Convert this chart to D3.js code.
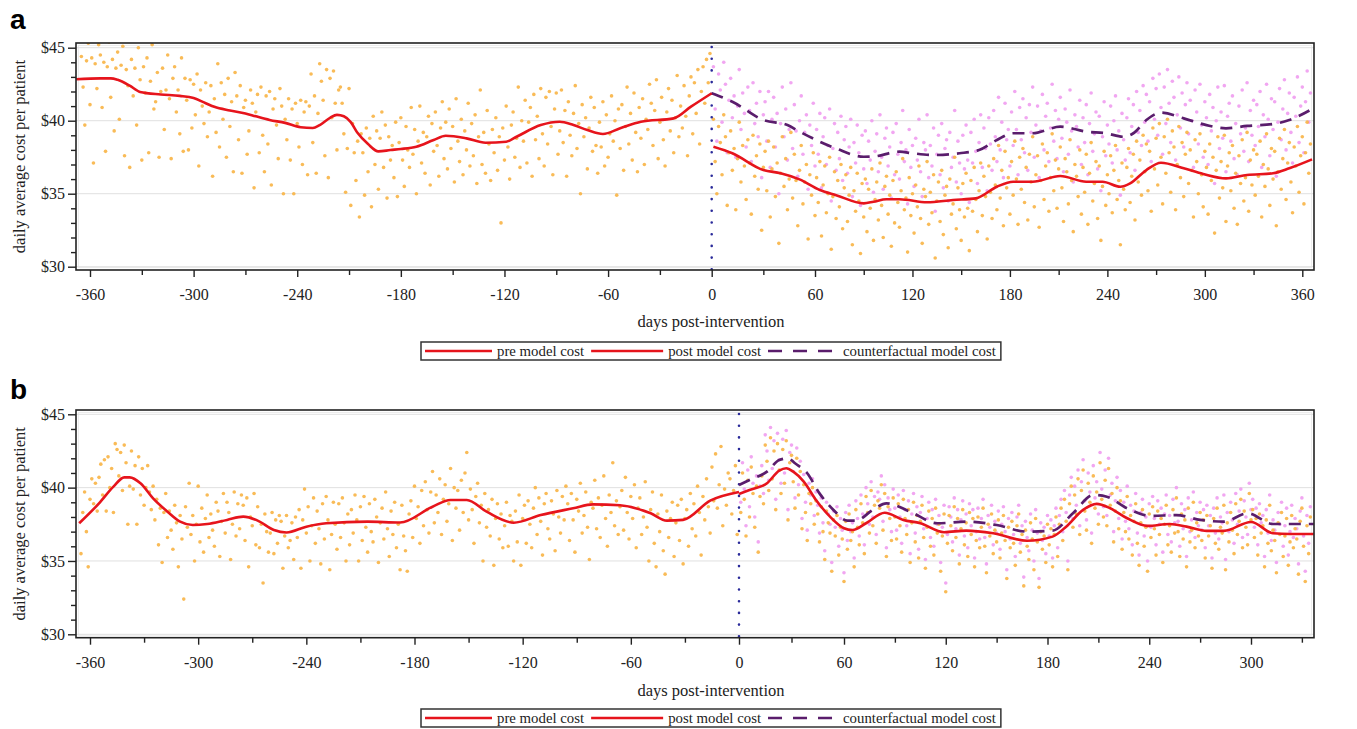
<!DOCTYPE html>
<html>
<head>
<meta charset="utf-8">
<script src="https://cdn.jsdelivr.net/npm/d3@7"></script>
<style>
body { margin: 0; background: #fff; }
svg text { font-family: "Liberation Serif", "Times New Roman", serif; fill: #222; }
.panel-label { font-family: "Liberation Sans", Arial, sans-serif; font-weight: bold; fill: #000; }
</style>
</head>
<body>
<svg id="chart" width="1357" height="729"></svg>
<script>
// ---- tick values / labels ----
const xMajorA = [-360, -300, -240, -180, -120, -60, 0, 60, 120, 180, 240, 300, 360]
const xMinorA = [-330, -270, -210, -150, -90, -30, 30, 90, 150, 210, 270, 330]
const xMajorB = [-360, -300, -240, -180, -120, -60, 0, 60, 120, 180, 240, 300]
const xMinorB = [-330, -270, -210, -150, -90, -30, 30, 90, 150, 210, 270, 330]
const yMajor = [30, 35, 40, 45]
const yMinor = [31, 32, 33, 34, 36, 37, 38, 39, 41, 42, 43, 44]
const legendLabels = ['pre model cost', 'post model cost', 'counterfactual model cost']

// ---- panel a: daily observed cost, pre period (days -365..-1) ----
const preObsA = [
  44.4, 42.3, 39.7, 44.1, 45.3, 41.1, 44.3, 37.1, 43.9, 42.2, 45.2, 44.5, 40.9, 44.0, 37.9, 43.7, 45.4, 41.6, 44.2, 39.3, 43.6, 44.7, 40.1, 43.8, 45.1, 37.6, 43.5, 42.4, 36.8, 44.2,
  41.7, 43.6, 39.7, 45.0, 42.8, 37.3, 43.7, 41.9, 44.3, 37.8, 42.7, 45.2, 40.8, 41.3, 43.3, 37.5, 42.0, 43.6, 39.4, 42.1, 44.5, 41.5, 37.4, 42.9, 43.7, 40.6, 42.1, 39.1, 44.3, 37.9,
  42.9, 41.4, 38.0, 42.8, 39.5, 42.5, 40.4, 43.2, 36.9, 42.1, 41.0, 39.8, 42.6, 38.9, 40.6, 42.4, 36.2, 41.5, 39.2, 43.9, 38.2, 42.6, 40.1, 41.8, 37.5, 42.9, 39.6, 41.3, 36.5, 43.3,
  41.7, 38.7, 42.4, 36.4, 40.9, 41.4, 37.7, 39.3, 42.1, 41.2, 35.4, 40.6, 41.8, 37.8, 42.3, 39.0, 36.5, 41.7, 38.4, 42.0, 35.6, 40.8, 41.5, 39.7, 37.4, 42.2, 41.0, 35.0, 40.1, 38.7,
  41.5, 37.3, 40.8, 35.0, 41.2, 39.8, 38.2, 41.4, 37.0, 40.6, 41.3, 36.3, 41.0, 43.2, 38.5, 41.7, 36.4, 40.5, 43.9, 42.7, 41.4, 37.6, 43.5, 36.1, 42.9, 40.2, 43.4, 41.2, 38.0, 42.1,
  42.3, 41.2, 39.1, 35.1, 38.1, 42.2, 34.2, 39.8, 37.8, 35.9, 38.6, 33.4, 39.1, 37.8, 34.9, 39.5, 36.5, 38.8, 34.1, 40.3, 37.0, 39.3, 35.3, 38.8, 40.6, 36.8, 39.7, 34.7, 38.9, 37.3,
  38.3, 36.1, 39.9, 34.8, 38.5, 40.2, 37.3, 35.5, 39.6, 38.0, 36.8, 40.9, 37.7, 39.4, 35.0, 38.6, 41.0, 37.1, 39.2, 36.4, 38.9, 40.3, 35.6, 39.8, 37.9, 40.6, 38.3, 36.2, 39.5, 41.3,
  37.4, 39.9, 36.7, 40.8, 38.1, 39.6, 35.8, 41.5, 38.6, 37.2, 40.1, 36.3, 39.3, 38.0, 41.2, 36.9, 39.8, 37.6, 40.4, 35.7, 38.9, 42.1, 37.0, 39.2, 36.4, 40.7, 38.4, 35.9, 39.4, 37.8,
  40.2, 36.6, 38.9, 33.0, 39.5, 37.3, 41.0, 38.2, 36.0, 39.7, 40.6, 37.5, 38.8, 42.3, 36.8, 40.0, 38.6, 41.4, 37.1, 39.9, 40.9, 36.2, 41.8, 38.7, 40.3, 37.4, 42.2, 39.1, 36.9, 41.6,
  38.4, 42.0, 39.6, 36.3, 40.8, 41.9, 37.7, 39.3, 42.1, 38.5, 40.7, 36.2, 41.3, 39.0, 37.6, 40.5, 42.4, 38.1, 39.8, 35.0, 41.1, 38.9, 40.2, 36.7, 39.5, 41.6, 37.9, 40.9, 38.3, 36.4,
  39.9, 38.2, 41.3, 36.9, 40.4, 37.5, 39.1, 41.7, 38.6, 40.0, 34.9, 40.8, 38.1, 41.1, 36.6, 39.6, 42.3, 38.4, 40.5, 37.3, 41.9, 39.2, 36.5, 40.9, 38.8, 41.5, 37.0, 40.1, 39.4, 42.5,
  41.2, 38.3, 40.7, 42.8, 37.4, 39.9, 41.6, 38.7, 36.9, 40.6, 42.2, 39.3, 41.4, 37.8, 40.2, 43.1, 38.9, 41.0, 39.5, 42.4, 40.3, 37.6, 41.7, 43.0, 39.1, 42.6, 40.5, 43.5, 38.4, 42.0,
  43.7, 41.2, 44.2, 42.6, 44.6
]

// ---- panel a: observed cost, post period (days 1..365) ----
const postObsA = [
  40.1, 37.2, 35.0, 39.6, 38.5, 36.3, 40.4, 38.9, 34.2, 37.8, 39.3, 36.6, 38.1, 33.9, 37.4, 39.9, 35.8, 38.3, 36.9, 34.6, 38.7, 37.1, 33.6, 39.0, 36.2, 37.6, 35.3, 38.4, 32.5, 36.8,
  37.9, 35.2, 38.6, 33.4, 36.7, 38.2, 34.8, 37.1, 31.6, 36.4, 38.9, 35.5, 37.4, 33.9, 36.0, 39.2, 34.7, 37.7, 35.9, 32.8, 36.6, 38.3, 34.3, 35.8, 37.0, 31.9, 36.3, 34.9, 37.8, 33.5,
  36.1, 34.4, 37.2, 32.1, 35.6, 36.9, 33.7, 35.0, 37.5, 31.2, 34.8, 36.5, 33.3, 35.9, 34.1, 37.0, 32.6, 35.4, 36.3, 33.1, 34.9, 36.8, 31.5, 35.2, 33.8, 36.4, 34.5, 30.9, 35.7, 33.4,
  36.0, 32.4, 35.3, 34.0, 36.7, 31.8, 34.6, 35.8, 33.2, 37.1, 34.2, 32.0, 35.5, 36.2, 33.6, 34.9, 31.4, 35.9, 33.0, 36.5, 34.4, 32.7, 35.2, 37.4, 33.9, 34.7, 31.0, 36.1, 33.5, 35.0,
  32.3, 35.6, 34.1, 36.9, 33.3, 31.6, 35.3, 34.8, 37.2, 32.9, 35.1, 33.7, 36.3, 30.6, 34.5, 35.8, 33.1, 36.6, 32.2, 34.9, 35.5, 31.3, 36.0, 33.6, 34.3, 37.5, 32.6, 35.4, 33.9, 31.8,
  35.7, 33.4, 36.4, 34.0, 31.1, 35.9, 33.8, 36.8, 34.6, 32.4, 35.2, 37.1, 33.5, 36.2, 34.8, 31.9, 36.9, 35.1, 33.3, 37.4, 35.6, 33.9, 38.3, 34.7, 36.6, 32.8, 37.9, 35.4, 36.1, 33.6,
  37.2, 34.9, 38.6, 36.0, 32.9, 37.5, 35.3, 38.1, 34.4, 36.8, 33.2, 37.7, 35.8, 38.9, 34.1, 36.3, 37.6, 32.7, 35.9, 38.4, 34.6, 36.9, 37.8, 33.8, 36.1, 39.1, 35.2, 37.3, 34.0, 36.7,
  38.2, 35.4, 33.1, 37.4, 36.5, 34.3, 38.7, 35.9, 32.4, 37.0, 36.2, 34.8, 38.0, 33.6, 36.8, 35.1, 37.7, 32.9, 36.4, 38.5, 34.5, 35.7, 37.2, 33.3, 36.9, 31.8, 35.5, 37.9, 34.2, 36.3,
  35.0, 37.6, 33.7, 36.6, 38.3, 34.6, 35.9, 31.5, 37.1, 35.3, 33.9, 36.8, 38.1, 34.4, 36.2, 37.7, 33.2, 38.6, 35.8, 37.3, 34.9, 39.0, 36.5, 38.4, 35.2, 37.9, 33.8, 39.5, 36.7, 38.8,
  35.6, 39.8, 37.5, 34.3, 38.9, 36.4, 40.1, 37.8, 35.1, 39.3, 38.2, 33.9, 37.0, 39.6, 36.1, 38.5, 34.8, 37.7, 39.2, 35.7, 38.0, 36.6, 33.4, 38.7, 37.2, 35.0, 39.1, 36.3, 34.1, 37.9,
  36.8, 33.6, 38.4, 35.9, 37.5, 32.3, 36.6, 38.9, 34.7, 37.2, 35.4, 39.0, 33.1, 36.9, 37.8, 35.2, 38.3, 34.0, 36.4, 32.9, 37.6, 35.7, 38.7, 34.5, 36.1, 39.2, 33.8, 37.3, 35.6, 38.0,
  34.9, 37.7, 36.2, 38.6, 33.4, 37.0, 35.5, 39.1, 36.7, 34.2, 38.1, 36.0, 37.9, 32.8, 36.5, 38.8, 35.3, 37.4, 39.4, 34.6, 37.1, 38.5, 35.8, 33.7, 38.2, 36.9, 39.6, 35.1, 37.6, 38.9,
  34.3, 37.8, 39.9, 36.4, 38.4
]

// ---- panel a: counterfactual cost, post period (days 1..365) ----
const cfObsA = [
  43.7, 40.8, 38.6, 43.2, 42.1, 39.9, 44.0, 42.5, 37.8, 41.4, 42.9, 40.2, 41.7, 37.5, 41.0, 43.5, 39.4, 41.9, 40.5, 38.2, 42.3, 40.7, 37.2, 42.6, 39.8, 41.2, 38.9, 42.0, 36.1, 40.4,
  41.3, 38.6, 42.0, 36.8, 40.1, 41.6, 38.2, 40.5, 35.0, 39.8, 42.3, 38.9, 40.8, 37.3, 39.4, 42.6, 38.1, 41.1, 39.3, 36.2, 40.0, 41.7, 37.7, 39.2, 40.4, 35.3, 39.7, 38.3, 41.2, 36.9,
  39.4, 37.7, 40.5, 35.4, 38.9, 40.2, 37.0, 38.3, 40.8, 34.5, 38.1, 39.8, 36.6, 39.2, 37.4, 40.3, 35.9, 38.7, 39.6, 36.4, 38.2, 40.1, 34.8, 38.5, 37.1, 39.7, 37.8, 34.2, 39.0, 36.7,
  39.3, 35.7, 38.6, 37.3, 40.0, 35.1, 37.9, 39.1, 36.5, 40.4, 37.5, 35.3, 38.8, 39.5, 36.9, 38.2, 34.7, 39.2, 36.3, 39.8, 37.7, 36.0, 38.5, 40.7, 37.2, 38.0, 34.3, 39.4, 36.8, 38.3,
  35.5, 38.8, 37.3, 40.1, 36.5, 34.8, 38.5, 38.0, 40.4, 36.1, 38.3, 36.9, 39.5, 33.8, 37.7, 39.0, 36.3, 39.8, 35.4, 38.1, 38.7, 34.5, 39.2, 36.8, 37.5, 40.7, 35.8, 38.6, 37.1, 35.0,
  39.0, 36.7, 39.7, 37.3, 34.4, 39.2, 37.1, 40.1, 37.9, 35.7, 38.5, 40.4, 36.8, 39.5, 38.1, 35.2, 40.2, 38.4, 36.6, 40.7, 38.9, 37.2, 41.6, 38.0, 39.9, 36.1, 41.2, 38.7, 39.4, 36.9,
  40.6, 38.3, 42.0, 39.4, 36.3, 40.9, 38.7, 41.5, 37.8, 40.2, 36.6, 41.1, 39.2, 42.3, 37.5, 39.7, 41.0, 36.1, 39.3, 41.8, 38.0, 40.3, 41.2, 37.2, 39.5, 42.5, 38.6, 40.7, 37.4, 40.1,
  41.6, 38.8, 36.5, 40.8, 39.9, 37.7, 42.1, 39.3, 35.8, 40.4, 39.6, 38.2, 41.4, 37.0, 40.2, 38.5, 41.1, 36.3, 39.8, 41.9, 37.9, 39.1, 40.6, 36.7, 40.3, 35.2, 38.9, 41.3, 37.6, 39.7,
  38.4, 41.0, 37.1, 40.0, 41.7, 38.0, 39.3, 34.9, 40.5, 38.7, 37.3, 40.2, 41.5, 37.8, 39.6, 41.1, 36.6, 42.0, 39.2, 40.7, 38.3, 42.4, 39.9, 41.8, 38.6, 41.3, 37.2, 42.9, 40.1, 42.2,
  39.0, 43.2, 40.9, 37.7, 42.3, 39.8, 43.5, 41.2, 38.5, 42.7, 41.6, 37.3, 40.4, 43.0, 39.5, 41.9, 38.2, 41.1, 42.6, 39.1, 41.4, 40.0, 36.8, 42.1, 40.6, 38.4, 42.5, 39.7, 37.5, 41.3,
  40.2, 37.0, 41.8, 39.3, 40.9, 35.7, 40.0, 42.3, 38.1, 40.6, 38.8, 42.4, 36.5, 40.3, 41.2, 38.6, 41.7, 37.4, 39.8, 36.3, 41.0, 39.1, 42.1, 37.9, 39.5, 42.6, 37.2, 40.7, 39.0, 41.4,
  38.3, 41.1, 39.6, 42.0, 36.8, 40.4, 38.9, 42.5, 40.1, 37.6, 41.5, 39.4, 41.3, 36.2, 39.9, 42.2, 38.7, 40.8, 42.8, 38.0, 40.5, 41.9, 39.2, 37.1, 41.6, 40.3, 43.0, 38.5, 41.0, 42.3,
  37.8, 41.3, 43.4, 39.9, 41.9
]

// ---- panel b: observed cost, pre period (days -365..-1) ----
const preObsB = [
  35.5, 38.3, 39.7, 37.0, 34.6, 39.2, 40.6, 38.9, 40.3, 38.4, 40.7, 41.6, 39.5, 41.9, 38.4, 42.1, 40.0, 41.3, 38.3, 43.0, 42.6, 40.8, 42.4, 39.8, 42.9, 41.7, 37.5, 40.1, 42.5, 39.9,
  41.5, 37.5, 42.1, 39.5, 41.3, 38.8, 40.0, 41.5, 39.7, 38.5, 40.1, 37.8, 39.2, 36.1, 38.6, 34.9, 38.3, 39.6, 36.6, 38.4, 37.1, 35.8, 38.8, 37.6, 34.6, 38.1, 36.5, 32.4, 38.7, 37.3,
  40.3, 36.8, 38.1, 35.0, 37.5, 40.1, 36.3, 38.6, 35.6, 37.9, 39.5, 36.6, 38.2, 37.1, 36.0, 39.0, 38.4, 35.3, 37.7, 39.6, 36.9, 39.0, 38.3, 35.1, 37.5, 39.7, 36.7, 38.9, 37.2, 39.5,
  38.8, 36.4, 39.3, 34.6, 38.0, 37.4, 39.6, 36.1, 38.7, 35.9, 37.5, 33.5, 38.2, 37.0, 35.6, 36.9, 38.3, 35.5, 37.8, 36.2, 38.1, 37.7, 34.5, 36.7, 38.1, 35.9, 36.4, 37.6, 35.1, 38.0,
  36.6, 38.5, 34.5, 37.8, 39.9, 36.9, 38.7, 35.0, 37.4, 39.3, 36.2, 38.4, 37.2, 34.8, 38.9, 36.5, 39.4, 37.8, 34.4, 36.8, 39.0, 37.5, 35.8, 38.9, 36.6, 39.3, 37.6, 35.0, 38.2, 36.1,
  38.5, 36.9, 39.5, 37.8, 35.0, 38.7, 36.4, 39.4, 37.3, 35.6, 38.9, 37.0, 36.3, 39.2, 38.0, 34.9, 37.6, 38.6, 36.5, 39.7, 37.2, 35.3, 38.4, 36.8, 39.0, 35.9, 37.5, 34.4, 38.8, 36.7,
  35.7, 34.3, 38.2, 39.1, 36.6, 40.1, 37.9, 38.7, 36.2, 39.8, 37.4, 40.4, 38.5, 36.9, 39.7, 41.1, 37.6, 39.5, 38.3, 40.6, 36.8, 39.2, 40.2, 37.7, 38.9, 41.3, 36.4, 40.0, 38.6, 39.8,
  37.1, 40.5, 38.3, 41.0, 42.4, 37.8, 39.9, 38.5, 36.2, 39.4, 40.3, 37.6, 38.8, 35.0, 39.6, 37.3, 38.5, 36.7, 39.2, 34.7, 37.9, 38.9, 36.5, 38.2, 35.9, 37.4, 39.0, 36.0, 38.1, 37.7,
  35.0, 38.4, 36.3, 39.5, 34.7, 37.9, 38.8, 36.2, 39.1, 37.5, 35.9, 38.6, 40.0, 36.8, 39.3, 37.7, 35.4, 38.9, 39.6, 37.2, 36.5, 39.1, 38.2, 35.7, 39.8, 38.0, 36.9, 39.4, 37.8, 40.1,
  38.9, 36.4, 39.6, 37.8, 35.6, 39.2, 38.4, 40.3, 36.9, 38.1, 39.7, 37.3, 35.1, 39.0, 38.6, 40.5, 37.2, 39.3, 36.6, 38.8, 40.8, 37.9, 36.0, 39.5, 38.3, 41.7, 37.4, 39.1, 36.8, 38.7,
  39.8, 37.1, 40.7, 38.3, 36.5, 39.4, 37.9, 40.2, 35.9, 38.6, 39.3, 36.8, 38.0, 40.4, 37.3, 35.0, 38.5, 39.7, 36.2, 34.6, 38.2, 37.0, 39.5, 35.7, 34.1, 38.4, 36.6, 37.9, 39.0, 35.3,
  37.6, 38.8, 36.4, 39.2, 34.8, 37.9, 38.5, 36.0, 39.6, 37.2, 38.9, 36.7, 40.1, 38.3, 35.4, 39.4, 37.8, 40.6, 38.7, 36.9, 41.4, 39.1, 42.3, 38.6, 40.2, 42.8, 37.4, 39.9, 38.8, 41.0,
  40.6, 38.2, 39.8, 41.5, 36.8
]

// ---- panel b: observed cost, post period (days 1..335) ----
const postObsB = [
  38.3, 41.0, 39.2, 36.7, 40.5, 38.0, 41.4, 39.6, 37.3, 40.1, 35.6, 39.4, 40.8, 38.9, 42.9, 41.8, 39.8, 43.4, 40.6, 42.5, 38.5, 43.0, 41.2, 39.6, 42.6, 40.3, 43.2, 37.8, 41.7, 42.2,
  40.4, 38.6, 42.0, 39.5, 41.1, 37.2, 40.2, 38.3, 36.4, 39.6, 38.9, 40.0, 37.5, 39.1, 38.2, 36.3, 38.7, 37.0, 35.1, 38.4, 37.6, 36.9, 34.3, 37.8, 36.7, 38.1, 35.4, 37.3, 36.5, 33.6,
  37.7, 35.8, 38.2, 36.4, 37.0, 34.6, 38.5, 37.3, 36.1, 38.9, 37.6, 35.5, 39.4, 38.3, 36.9, 39.8, 37.4, 38.8, 36.2, 39.1, 38.6, 40.2, 37.1, 39.6, 35.3, 38.7, 37.9, 36.4, 39.3, 38.0,
  36.5, 38.9, 37.4, 35.6, 39.2, 37.9, 36.8, 38.5, 34.9, 37.6, 39.0, 36.3, 38.1, 35.2, 37.7, 38.8, 36.6, 34.5, 37.3, 38.4, 36.0, 37.9, 35.4, 38.6, 36.9, 37.5, 34.3, 36.7, 38.2, 32.9,
  36.2, 38.1, 37.4, 35.7, 38.7, 36.6, 37.9, 34.8, 37.2, 38.5, 36.1, 37.6, 35.3, 38.3, 36.8, 37.9, 34.6, 36.4, 38.0, 35.9, 37.3, 38.6, 36.0, 34.2, 37.5, 36.7, 38.2, 35.5, 37.1, 36.3,
  37.8, 35.2, 36.9, 38.1, 36.4, 33.8, 37.3, 35.9, 37.7, 36.2, 34.7, 37.4, 38.2, 35.6, 36.8, 33.3, 37.1, 36.0, 35.1, 37.6, 36.5, 34.4, 37.9, 36.3, 33.2, 37.0, 35.8, 36.7, 34.9, 37.5,
  36.1, 37.2, 34.6, 36.8, 38.0, 35.3, 37.5, 38.6, 36.4, 39.2, 37.7, 34.4, 38.9, 40.1, 37.3, 39.5, 38.2, 40.6, 36.8, 39.8, 41.2, 38.4, 37.1, 40.3, 39.0, 36.2, 40.8, 38.6, 39.7, 37.5,
  41.7, 39.2, 38.0, 40.5, 37.4, 41.3, 38.8, 39.6, 36.3, 38.4, 40.0, 37.2, 39.1, 35.8, 38.3, 37.0, 39.4, 36.5, 38.1, 35.4, 37.7, 38.9, 36.2, 34.7, 37.6, 38.5, 36.0, 37.3, 34.3, 38.2,
  36.6, 38.7, 37.2, 35.4, 38.4, 36.8, 37.9, 34.9, 37.5, 38.8, 36.1, 37.4, 35.6, 38.5, 36.9, 39.3, 37.0, 35.3, 38.2, 36.5, 37.8, 34.6, 38.6, 36.3, 37.1, 39.0, 35.9, 37.6, 36.7, 38.3,
  36.4, 37.8, 35.2, 38.1, 36.7, 37.4, 34.5, 37.9, 36.2, 38.6, 35.8, 37.3, 36.9, 38.8, 34.4, 37.6, 36.3, 38.3, 37.1, 35.5, 38.9, 36.8, 37.7, 39.2, 35.9, 38.4, 37.3, 36.1, 39.6, 37.8,
  38.5, 36.6, 37.9, 35.4, 38.2, 36.9, 37.4, 34.6, 37.8, 36.2, 38.8, 35.7, 37.1, 36.4, 34.2, 37.6, 36.8, 38.3, 35.3, 36.7, 37.9, 34.7, 36.3, 38.1, 35.9, 37.2, 36.5, 34.1, 37.7, 38.6,
  36.0, 33.6, 37.4, 35.5, 38.0
]

// ---- panel b: counterfactual cost, post period (days 1..335) ----
const cfObsB = [
  39.0, 41.7, 39.9, 37.4, 41.2, 38.7, 42.1, 40.3, 38.0, 40.8, 36.3, 40.1, 41.5, 39.6, 43.6, 42.5, 40.5, 44.1, 41.3, 43.2, 39.2, 43.7, 41.9, 40.3, 43.3, 41.0, 43.9, 38.5, 42.4, 42.9,
  41.1, 39.3, 42.7, 40.2, 41.8, 37.9, 40.9, 39.0, 37.1, 40.3, 39.5, 40.6, 38.1, 39.7, 38.8, 36.9, 39.3, 37.6, 35.7, 39.0, 38.2, 37.5, 34.9, 38.4, 37.3, 38.7, 36.0, 37.9, 37.1, 34.2,
  38.3, 36.4, 38.8, 37.0, 37.6, 35.2, 39.1, 37.9, 36.7, 39.5, 38.2, 36.1, 40.0, 38.9, 37.5, 40.4, 38.0, 39.4, 36.8, 39.7, 39.2, 40.8, 37.7, 40.2, 35.9, 39.3, 38.5, 37.0, 39.9, 38.6,
  37.1, 39.5, 38.0, 36.2, 39.8, 38.5, 37.4, 39.1, 35.5, 38.2, 39.6, 36.9, 38.7, 35.8, 38.3, 39.4, 37.2, 35.1, 37.9, 39.0, 36.6, 38.5, 36.0, 39.2, 37.5, 38.1, 34.9, 37.3, 38.8, 33.5,
  36.8, 38.7, 38.0, 36.3, 39.3, 37.2, 38.5, 35.4, 37.8, 39.1, 36.7, 38.2, 35.9, 38.9, 37.4, 38.5, 35.2, 37.0, 38.6, 36.5, 37.9, 39.2, 36.6, 34.8, 38.1, 37.3, 38.8, 36.1, 37.7, 36.9,
  38.4, 35.8, 37.5, 38.7, 37.0, 34.4, 37.9, 36.5, 38.3, 36.8, 35.3, 38.0, 38.8, 36.2, 37.4, 33.9, 37.7, 36.6, 35.7, 38.2, 37.1, 35.0, 38.5, 36.9, 33.8, 37.6, 36.4, 37.3, 35.5, 38.1,
  36.7, 37.8, 35.2, 37.4, 38.6, 35.9, 38.1, 39.2, 37.0, 39.8, 38.3, 35.0, 39.5, 40.7, 37.9, 40.1, 38.8, 41.2, 37.4, 40.4, 41.9, 39.1, 37.8, 41.0, 39.7, 36.9, 41.5, 39.3, 40.4, 38.2,
  42.4, 39.9, 38.7, 41.2, 38.1, 42.0, 39.5, 40.3, 37.0, 39.1, 40.7, 37.9, 39.8, 36.5, 39.0, 37.7, 40.1, 37.2, 38.8, 36.1, 38.4, 39.6, 36.9, 35.4, 38.3, 39.2, 36.7, 38.0, 35.0, 38.9,
  37.3, 39.4, 37.9, 36.1, 39.1, 37.5, 38.6, 35.6, 38.2, 39.5, 36.8, 38.1, 36.3, 39.2, 37.6, 40.0, 37.7, 36.0, 38.9, 37.2, 38.5, 35.3, 39.3, 37.0, 37.8, 39.7, 36.6, 38.3, 37.4, 39.0,
  37.1, 38.5, 35.9, 38.8, 37.4, 38.1, 35.2, 38.6, 36.9, 39.3, 36.5, 38.0, 37.6, 39.5, 35.1, 38.3, 37.0, 39.0, 37.8, 36.2, 39.6, 37.5, 38.4, 39.9, 36.6, 39.1, 38.0, 36.8, 40.3, 38.5,
  39.2, 37.3, 38.6, 36.1, 38.9, 37.6, 38.1, 35.3, 38.5, 36.9, 39.5, 36.4, 37.8, 37.1, 34.9, 38.3, 37.5, 39.0, 36.0, 37.4, 38.6, 35.4, 37.0, 38.8, 36.6, 37.9, 37.2, 34.8, 38.4, 39.3,
  36.7, 34.3, 38.1, 36.2, 38.7
]

// ---- fitted model curves, [day, $] ----
const preLineA = [[-368, 42.84], [-354, 42.9], [-348, 42.9], [-344, 42.8], [-337, 42.4], [-331, 41.97], [-319, 41.8], [-308, 41.7], [-300, 41.55], [-293, 41.2], [-288, 40.95], [-279, 40.7], [-270, 40.5], [-264, 40.3], [-256, 40.05], [-247, 39.85], [-238, 39.55], [-231, 39.5], [-227, 39.7], [-221, 40.2], [-217, 40.4], [-213, 40.3], [-209, 39.9], [-205, 39.15], [-199, 38.4], [-193, 37.9], [-186, 37.99], [-180, 38.06], [-171, 38.22], [-161, 38.68], [-154, 38.97], [-142, 38.79], [-131, 38.49], [-119, 38.56], [-113, 38.9], [-99, 39.7], [-88, 39.93], [-80, 39.7], [-72, 39.36], [-63, 39.09], [-53, 39.48], [-41, 39.93], [-22, 40.16], [-12, 40.96], [0, 41.88]]
const postLineA = [[1, 38.22], [12, 37.77], [30, 36.62], [40, 36.4], [51, 35.98], [63, 35.25], [73, 34.9], [90, 34.34], [96, 34.45], [104, 34.62], [112, 34.62], [129, 34.41], [145, 34.57], [159, 34.68], [172, 35.48], [182, 35.82], [194, 35.82], [211, 36.21], [227, 35.82], [237, 35.82], [248, 35.48], [254, 35.71], [264, 36.62], [273, 37.12], [287, 36.74], [299, 36.35], [313, 36.05], [326, 36.28], [342, 36.4], [352, 36.74], [366, 37.35]]
const cfLineA = [[0, 41.88], [12, 41.3], [30, 40.05], [44, 39.7], [51, 39.25], [63, 38.56], [73, 38.1], [90, 37.53], [96, 37.55], [112, 37.88], [120, 37.77], [133, 37.65], [149, 37.77], [161, 37.99], [172, 38.68], [182, 39.14], [194, 39.14], [211, 39.59], [227, 39.25], [239, 39.14], [250, 38.9], [256, 39.14], [264, 40.05], [273, 40.55], [287, 40.16], [301, 39.7], [313, 39.48], [326, 39.64], [342, 39.77], [352, 40.05], [366, 40.8]]
const preLineB = [[-366, 37.57], [-355, 38.93], [-347, 40.07], [-341, 40.7], [-338, 40.7], [-332, 40.3], [-325, 39.27], [-317, 38.36], [-310, 37.68], [-303, 37.45], [-295, 37.52], [-284, 37.8], [-275, 38.02], [-267, 37.75], [-258, 37.11], [-251, 36.94], [-240, 37.34], [-229, 37.57], [-206, 37.68], [-188, 37.62], [-170, 38.7], [-160, 39.16], [-151, 39.16], [-140, 38.36], [-125, 37.61], [-110, 38.13], [-92, 38.59], [-81, 38.86], [-66, 38.8], [-49, 38.25], [-40, 37.75], [-31, 37.8], [-16, 39.11], [0, 39.7]]
const postLineB = [[0, 39.57], [6, 39.84], [16, 40.3], [23, 41.16], [27, 41.32], [31, 41.09], [37, 40.41], [44, 39.16], [52, 38.02], [60, 37.23], [65, 37.11], [73, 37.57], [84, 38.29], [95, 37.8], [105, 37.57], [119, 36.96], [132, 37.07], [148, 36.89], [168, 36.38], [183, 36.66], [191, 37.34], [201, 38.48], [209, 38.89], [217, 38.59], [227, 37.91], [239, 37.39], [252, 37.52], [262, 37.34], [274, 37.05], [284, 37.05], [300, 37.66], [313, 36.89], [323, 36.84], [337, 36.84]]
const cfLineB = [[0, 40.18], [6, 40.52], [16, 41.09], [23, 41.88], [28, 42.0], [32, 41.66], [39, 40.98], [46, 39.61], [54, 38.48], [62, 37.75], [67, 37.75], [77, 38.48], [85, 38.93], [99, 38.36], [115, 37.57], [133, 37.68], [150, 37.45], [168, 37.0], [183, 37.07], [195, 38.25], [207, 39.5], [215, 39.38], [227, 38.59], [241, 38.07], [256, 38.13], [270, 37.8], [284, 37.68], [298, 38.25], [313, 37.52], [337, 37.52]]

// ---- styles ----
const ORANGE = '#f8b445'
const PINK = '#ef9cef'
const RED = '#e6141c'
const PURPLE = '#5a1d6c'
const REFBLUE = '#2a2a9a'

const svg = d3.select('#chart')
svg.append('rect').attr('width', 1357).attr('height', 729).attr('fill', '#fff')

const panels = [
  {
    id: 'a', labelY: 29, top: 43, bottom: 270, left: 76, right: 1314, y45: 47.7, y30: 266.7,
    xDomain: [-360, 0, 60, 360], xRange: [90, 711.7, 815, 1302.3],
    majors: xMajorA, minors: xMinorA,
    pre: preObsA, post: postObsA, cf: cfObsA,
    preLine: preLineA, postLine: postLineA, cfLine: cfLineA,
    titleY: 327, legendY: 342
  },
  {
    id: 'b', labelY: 399, top: 410, bottom: 637.7, left: 76, right: 1314, y45: 414.3, y30: 634.3,
    xDomain: [-360, 0, 60, 300], xRange: [90, 739, 844, 1251],
    majors: xMajorB, minors: xMinorB,
    pre: preObsB, post: postObsB, cf: cfObsB,
    preLine: preLineB, postLine: postLineB, cfLine: cfLineB,
    titleY: 696, legendY: 709
  }
]

panels.forEach(drawPanel)

function drawPanel(p) {
    const x = d3.scaleLinear().domain(p.xDomain).range(p.xRange)
    const y = d3.scaleLinear().domain([30, 45]).range([p.y30, p.y45])
    const g = svg.append('g')

    g.append('text')
        .attr('class', 'panel-label')
        .attr('x', 10).attr('y', p.labelY)
        .style('font-size', '28px')
        .text(p.id)

    const clipId = 'clip-' + p.id
    g.append('clipPath').attr('id', clipId)
        .append('rect')
        .attr('x', p.left).attr('y', p.top)
        .attr('width', p.right - p.left).attr('height', p.bottom - p.top)

    // faint inner border + gridlines
    g.append('rect')
        .attr('x', p.left + 2.5).attr('y', p.top + 2.5)
        .attr('width', p.right - p.left - 5).attr('height', p.bottom - p.top - 5)
        .attr('fill', 'none').attr('stroke', '#ececec').attr('stroke-width', 1)

    g.append('g').selectAll('line')
        .data(yMajor)
        .join('line')
        .attr('x1', p.left).attr('x2', p.right)
        .attr('y1', d => y(d)).attr('y2', d => y(d))
        .attr('stroke', '#e0e0e0').attr('stroke-width', 1)

    const plot = g.append('g').attr('clip-path', `url(#${clipId})`)

    const dot = (sel, color) => sel
        .attr('r', 1.8)
        .attr('fill', color)
        .attr('fill-opacity', 0.9)

    plot.append('g').selectAll('circle')
        .data(p.cf.map((v, i) => [i + 1, v]))
        .join('circle')
        .attr('cx', d => x(d[0])).attr('cy', d => y(d[1]))
        .call(dot, PINK)

    plot.append('g').selectAll('circle')
        .data(p.pre.map((v, i) => [i - 365, v]).concat(p.post.map((v, i) => [i + 1, v])))
        .join('circle')
        .attr('cx', d => x(d[0])).attr('cy', d => y(d[1]))
        .call(dot, ORANGE)

    // intervention reference line
    plot.append('line')
        .attr('x1', x(0)).attr('x2', x(0))
        .attr('y1', p.top + 4).attr('y2', p.bottom)
        .attr('stroke', REFBLUE).attr('stroke-width', 2.6)
        .attr('stroke-linecap', 'round')
        .attr('stroke-dasharray', '0 11.7')

    const line = d3.line()
        .x(d => x(d[0])).y(d => y(d[1]))
        .curve(d3.curveMonotoneX)

    plot.append('path').datum(p.cfLine)
        .attr('d', line)
        .attr('fill', 'none').attr('stroke', PURPLE)
        .attr('stroke-width', 2.7).attr('stroke-dasharray', '12 8')

    plot.append('path').datum(p.preLine)
        .attr('d', line)
        .attr('fill', 'none').attr('stroke', RED).attr('stroke-width', 2.6)

    plot.append('path').datum(p.postLine)
        .attr('d', line)
        .attr('fill', 'none').attr('stroke', RED).attr('stroke-width', 2.6)

    // frame
    g.append('rect')
        .attr('x', p.left).attr('y', p.top)
        .attr('width', p.right - p.left).attr('height', p.bottom - p.top)
        .attr('fill', 'none').attr('stroke', '#222').attr('stroke-width', 1.6)

    // x axis
    const xAxis = g.append('g').attr('transform', `translate(0,${p.bottom})`)
    xAxis.append('g')
        .call(d3.axisBottom(x).tickValues(p.majors).tickSize(7).tickPadding(12).tickFormat(d => String(d)))
    xAxis.append('g')
        .call(d3.axisBottom(x).tickValues(p.minors).tickSize(5).tickFormat(''))
    styleAxis(xAxis)

    // y axis
    const yAxis = g.append('g').attr('transform', `translate(${p.left},0)`)
    yAxis.append('g')
        .call(d3.axisLeft(y).tickValues(yMajor).tickSize(8).tickPadding(3).tickFormat(d => '$' + d))
    yAxis.append('g')
        .call(d3.axisLeft(y).tickValues(yMinor).tickSize(5).tickFormat(''))
    styleAxis(yAxis)

    g.append('text')
        .attr('x', 711).attr('y', p.titleY)
        .attr('text-anchor', 'middle')
        .style('font-size', '16.5px')
        .text('days post-intervention')

    g.append('text')
        .attr('transform', `translate(25,${(p.top + p.bottom) / 2}) rotate(-90)`)
        .attr('text-anchor', 'middle')
        .style('font-size', '16.5px')
        .text('daily average cost per patient')

    drawLegend(g, p.legendY)
}

function styleAxis(sel) {
    sel.selectAll('.domain').remove()
    sel.selectAll('.tick line').attr('stroke', '#222').attr('stroke-width', 1.4)
    sel.selectAll('.tick text')
        .attr('fill', '#222')
        .style('font-family', '"Liberation Serif", "Times New Roman", serif')
        .style('font-size', '16px')
}

function drawLegend(g, top) {
    const lg = g.append('g')
    const box = lg.append('rect')
        .attr('x', 421).attr('y', top).attr('height', 18)
        .attr('fill', '#fff').attr('stroke', '#333').attr('stroke-width', 1.5)
    const styles = [
        { color: RED, dash: null, len: 67, gapAfter: 5 },
        { color: RED, dash: null, len: 72, gapAfter: 5 },
        { color: PURPLE, dash: '14 11', len: 64, gapAfter: 11 }
    ]
    let cx = 425
    legendLabels.forEach((label, i) => {
        const s = styles[i]
        lg.append('line')
            .attr('x1', cx).attr('x2', cx + s.len)
            .attr('y1', top + 9).attr('y2', top + 9)
            .attr('stroke', s.color).attr('stroke-width', 2.6)
            .attr('stroke-dasharray', s.dash)
        cx += s.len + s.gapAfter
        const t = lg.append('text')
            .attr('x', cx).attr('y', top + 14)
            .style('font-size', '14.8px')
            .text(label)
        cx += t.node().getComputedTextLength() + 7
    })
    box.attr('width', cx - 421 - 2)
}
</script>
</body>
</html>
